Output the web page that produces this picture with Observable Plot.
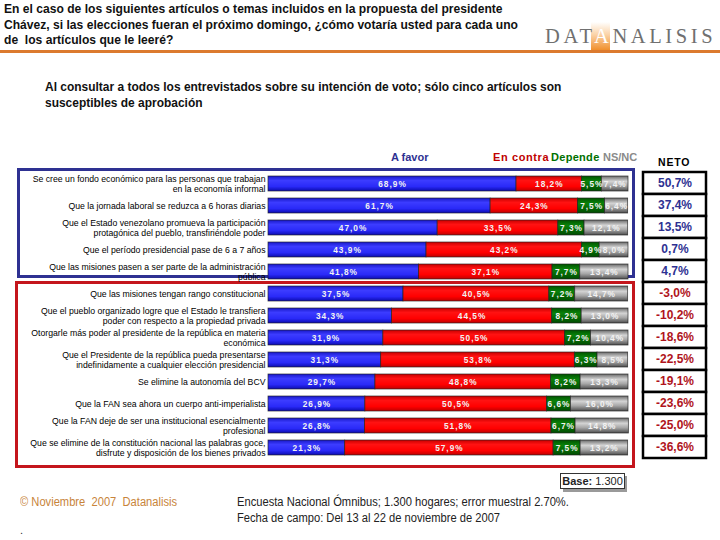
<!DOCTYPE html>
<html><head><meta charset="utf-8">
<script src="https://cdn.jsdelivr.net/npm/d3@7"></script>
<script src="https://cdn.jsdelivr.net/npm/@observablehq/plot@0.6"></script>
<style>
html,body{margin:0;padding:0;background:#fff}
body{width:720px;height:540px;position:relative;overflow:hidden;font-family:"Liberation Sans",Arial,sans-serif}
.abs{position:absolute;white-space:nowrap}
.narrow{font-family:"Liberation Sans Narrow","Arial Narrow","Liberation Sans",sans-serif;transform:scaleX(0.93);transform-origin:0 0}
.vals text{letter-spacing:1px}
</style></head><body>
<script>
const categories = [
  "Se cree un fondo económico para las personas que trabajan\nen la economía informal",
  "Que la jornada laboral se reduzca a 6 horas diarias",
  "Que el Estado venezolano promueva la participación\nprotagónica del pueblo, transfiriéndole poder",
  "Que el período presidencial pase de 6 a 7 años",
  "Que las misiones pasen a ser parte de la administración\npública",
  "Que las misiones tengan rango constitucional",
  "Que el pueblo organizado logre que el Estado le transfiera\npoder con respecto a la propiedad privada",
  "Otorgarle más poder al presidente de la república en materia\neconómica",
  "Que el Presidente de la república pueda presentarse\nindefinidamente a cualquier elección presidencial",
  "Se elimine la autonomía del BCV",
  "Que la FAN sea ahora un cuerpo anti-imperialista",
  "Que la FAN deje de ser una institucional esencialmente\nprofesional",
  "Que se elimine de la constitución nacional las palabras goce,\ndisfrute y disposición de los bienes privados"
];
const series = ["A favor", "En contra", "Depende", "NS/NC"];
const favor   = [68.9, 61.7, 47.0, 43.9, 41.8, 37.5, 34.3, 31.9, 31.3, 29.7, 26.9, 26.8, 21.3];
const contra  = [18.2, 24.3, 33.5, 43.2, 37.1, 40.5, 44.5, 50.5, 53.8, 48.8, 50.5, 51.8, 57.9];
const depende = [5.5, 7.5, 7.3, 4.9, 7.7, 7.2, 8.2, 7.2, 6.3, 8.2, 6.6, 6.7, 7.5];
const nsnc    = [7.4, 6.4, 12.1, 8.0, 13.4, 14.7, 13.0, 10.4, 8.5, 13.3, 16.0, 14.8, 13.2];
const neto    = [50.7, 37.4, 13.5, 0.7, 4.7, -3.0, -10.2, -18.6, -22.5, -19.1, -23.6, -25.0, -36.6];

const seriesValues = [favor, contra, depende, nsnc];
const rows = categories.flatMap((c, i) => series.map((s, j) => ({cat: c, serie: s, value: seriesValues[j][i]})));
const netoRows = categories.map((c, i) => ({cat: c, neto: neto[i]}));
const fmt = v => v.toFixed(1).replace(".", ",") + "%";

const H = 311, MT = 10, MB = 8.5;

document.body.insertAdjacentHTML("beforeend", `
<div class="abs narrow" style="left:4px;top:1px;font-size:13px;font-weight:bold;line-height:15.5px;color:#111">En el caso de los siguientes artículos o temas incluidos en la propuesta del presidente<br>Chávez, si las elecciones fueran el próximo domingo, ¿cómo votaría usted para cada uno<br>de&nbsp; los artículos que le leeré?</div>
<div class="abs" style="left:591px;top:22px;width:19px;height:28px;background:linear-gradient(#ffffff 0%,#fbd3a8 45%,#f0902e 100%)"></div>
<div class="abs" style="left:545px;top:25px;font-family:'Liberation Serif',serif;font-size:20.5px;letter-spacing:3.6px;color:#707070">DAT<span style="color:#fff">A</span>NALISIS</div>
<div class="abs" style="left:0;top:50px;width:720px;height:2.5px;background:#dc7a2e"></div>
<div class="abs narrow" style="left:45px;top:79px;font-size:13px;font-weight:bold;line-height:15.5px;color:#111;transform:scaleX(0.92)">Al consultar a todos los entrevistados sobre su intención de voto; sólo cinco artículos son<br>susceptibles de aprobación</div>
<div class="abs" style="left:17px;top:168px;width:618px;height:110px;border:3px solid #2e3192;box-sizing:border-box"></div>
<div class="abs" style="left:15px;top:281px;width:620px;height:187px;border:3px solid #c4161c;box-sizing:border-box"></div>
<div class="abs" style="left:391px;top:151px;font-size:11px;font-weight:bold;color:#2e3192">A favor</div>
<div class="abs" style="left:493px;top:151px;font-size:11px;font-weight:bold;letter-spacing:0.6px;color:#c00000">En contra</div>
<div class="abs" style="left:551px;top:151px;font-size:11px;font-weight:bold;letter-spacing:0.3px;color:#007000">Depende</div>
<div class="abs" style="left:603px;top:151px;font-size:11px;font-weight:bold;color:#8a8a8a">NS/NC</div>
<div class="abs" style="left:658px;top:156px;font-size:10.5px;font-weight:bold;letter-spacing:0.8px;color:#000">NETO</div>
<div class="abs" style="left:563px;top:476px;width:64px;height:16px;background:#9a9a9a"></div>
<div class="abs" style="left:560px;top:473px;width:65px;height:16px;background:#fff;border:1px solid #333;box-sizing:border-box;font-size:11px;line-height:14px;text-align:center;color:#222"><b>Base:</b> 1.300</div>
<div class="abs narrow" style="left:20px;top:495px;font-size:12px;color:#c8843a">© Noviembre&nbsp; 2007&nbsp; Datanalisis</div>
<div class="abs narrow" style="left:237px;top:495px;font-size:12px;line-height:15.5px;color:#222">Encuesta Nacional Ómnibus; 1.300 hogares; error muestral 2.70%.<br>Fecha de campo: Del 13 al 22 de noviembre de 2007</div>
<div class="abs" style="left:20px;top:524px;font-size:11px;color:#333">.</div>
`);

const main = Plot.plot({
  width: 640, height: H, marginTop: MT, marginBottom: MB, marginLeft: 268, marginRight: 12,
  x: {domain: [0, 100], axis: null},
  y: {domain: categories, paddingInner: 0.32, paddingOuter: 0.16, axis: null},
  color: {domain: series, range: ["url(#gBlue)", "url(#gRed)", "url(#gGreen)", "url(#gGrey)"]},
  style: {fontFamily: "'Liberation Sans', Arial, sans-serif", background: "transparent", overflow: "visible"},
  marks: [
    Plot.barX(rows, Plot.stackX({x: "value", y: "cat", z: "serie", fill: "serie", order: series, stroke: "#202020", strokeWidth: 0.8, strokeOpacity: 0.8})),
    Plot.text(rows, Plot.stackX({x: "value", y: "cat", z: "serie", order: series, text: d => fmt(d.value), fill: "#f2f2f2", fontSize: 8.3, fontWeight: "bold", className: "vals"})),
    Plot.text(categories, {y: d => d, text: d => d, frameAnchor: "left", textAnchor: "end", dx: -3, fontSize: 8.7, lineHeight: 1.1, fill: "#000"})
  ]
});
main.style.position = "absolute";
main.style.left = "0px";
main.style.top = "159px";
const svg = d3.select(main);
const defs = svg.insert("defs", ":first-child");
function grad(id, stops) {
  const g = defs.append("linearGradient").attr("id", id).attr("x1", 0).attr("y1", 0).attr("x2", 0).attr("y2", 1);
  stops.forEach(([o, c]) => g.append("stop").attr("offset", o).attr("stop-color", c));
}
grad("gBlue", [[0, "#1818c8"], [0.3, "#3c3cff"], [0.7, "#2a2af8"], [1, "#0c0cb0"]]);
grad("gRed", [[0, "#c80000"], [0.3, "#ff1212"], [0.7, "#ff0000"], [1, "#c00000"]]);
grad("gGreen", [[0, "#005400"], [0.35, "#0a820a"], [1, "#004c00"]]);
grad("gGrey", [[0, "#6a6a6a"], [0.35, "#d4d4d4"], [0.65, "#a6a6a6"], [1, "#4e4e4e"]]);
document.body.appendChild(main);

const netoPlot = Plot.plot({
  width: 69, height: H, marginTop: MT, marginBottom: MB, marginLeft: 3, marginRight: 3,
  x: {domain: ["NETO"], padding: 0, axis: null},
  y: {domain: categories, padding: 0, axis: null},
  color: {type: "identity"},
  style: {fontFamily: "'Liberation Sans', Arial, sans-serif", background: "transparent", overflow: "visible"},
  marks: [
    Plot.cell(netoRows, {x: () => "NETO", y: "cat", fill: "white", stroke: "#000", strokeWidth: 2.5, inset: 0}),
    Plot.text(netoRows, {x: () => "NETO", y: "cat", text: d => fmt(d.neto), fill: d => d.neto >= 0 ? "#2e3192" : "#b0141c", fontSize: 12, fontWeight: "bold"})
  ]
});
netoPlot.style.position = "absolute";
netoPlot.style.left = "640px";
netoPlot.style.top = "159px";
document.body.appendChild(netoPlot);
</script>
</body></html>
